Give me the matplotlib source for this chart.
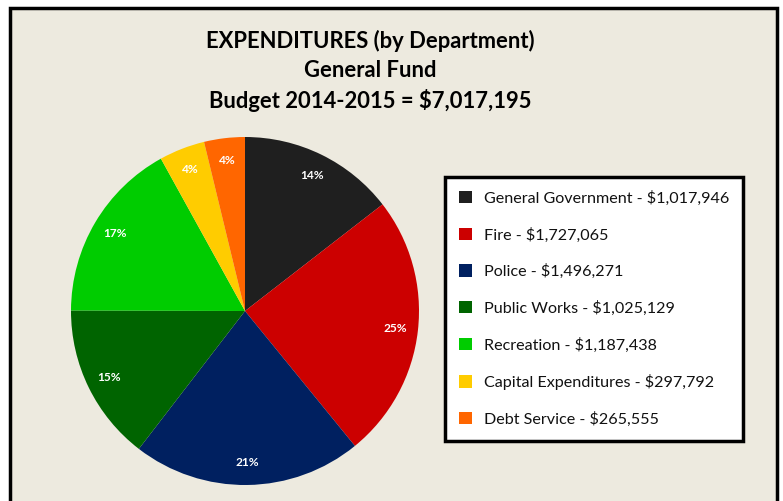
import matplotlib
matplotlib.use("Agg")
import matplotlib.pyplot as plt
from matplotlib.patches import Rectangle
import numpy as np

# Data
departments = ["General Government", "Fire", "Police", "Public Works",
               "Recreation", "Capital Expenditures", "Debt Service"]
amounts = [1017946, 1727065, 1496271, 1025129, 1187438, 297792, 265555]
pct_labels = ["14%", "25%", "21%", "15%", "17%", "4%", "4%"]
colors = ["#1f1f1f", "#cc0000", "#002060", "#006400", "#00cc00", "#ffcc00", "#ff6600"]

title_lines = ["EXPENDITURES (by Department)", "General Fund",
               "Budget 2014-2015 = $7,017,195"]

plt.rcParams["font.family"] = ["Lato", "DejaVu Sans"]

W, H = 783, 501
fig = plt.figure(figsize=(W / 100.0, H / 100.0), dpi=100)
fig.patch.set_facecolor("white")

# beige chart frame (bottom edge runs off the picture)
frame = Rectangle((10 / W, -0.05), (777 - 10) / W, 1 - 8 / H + 0.05,
                  transform=fig.transFigure, facecolor="#edeadf",
                  edgecolor="black", linewidth=2.5, zorder=-1)
fig.patches.append(frame)

# title
for i, line in enumerate(title_lines):
    fig.text(370 / W, 1 - (41 + 29.5 * i) / H, line, ha="center", va="center",
             fontsize=15.8, fontweight="bold", color="black")

# pie
cx, cy, r = 245, 311, 174
ax = fig.add_axes([(cx - r) / W, (H - cy - r) / H, 2 * r / W, 2 * r / H])
wedges, _ = ax.pie(amounts, colors=colors, startangle=90, counterclock=False,
                   wedgeprops=dict(linewidth=0))
ax.set_xlim(-1, 1)
ax.set_ylim(-1, 1)
ax.set_aspect("equal")
ax.axis("off")

for w, lab in zip(wedges, pct_labels):
    mid = np.deg2rad((w.theta1 + w.theta2) / 2.0)
    ax.text(0.87 * np.cos(mid), 0.87 * np.sin(mid), lab, ha="center",
            va="center", color="white", fontsize=8.6, fontweight="bold")

# legend
legend_labels = ["%s - $%s" % (d, format(a, ",")) for d, a in zip(departments, amounts)]
leg = fig.legend(wedges, legend_labels, loc="upper left",
                 bbox_to_anchor=(445 / W, 1 - 177 / H), bbox_transform=fig.transFigure,
                 fontsize=11.6, frameon=True, fancybox=False, borderaxespad=0,
                 borderpad=0.85, labelspacing=1.34, handlelength=0.8,
                 handleheight=0.8, handletextpad=0.75)
leg.get_frame().set_edgecolor("black")
leg.get_frame().set_linewidth(2.5)
leg.get_frame().set_facecolor("white")
leg.get_frame().set_alpha(1)
for t in leg.get_texts():
    t.set_color("#111111")

plt.savefig("out.png", dpi=100)
